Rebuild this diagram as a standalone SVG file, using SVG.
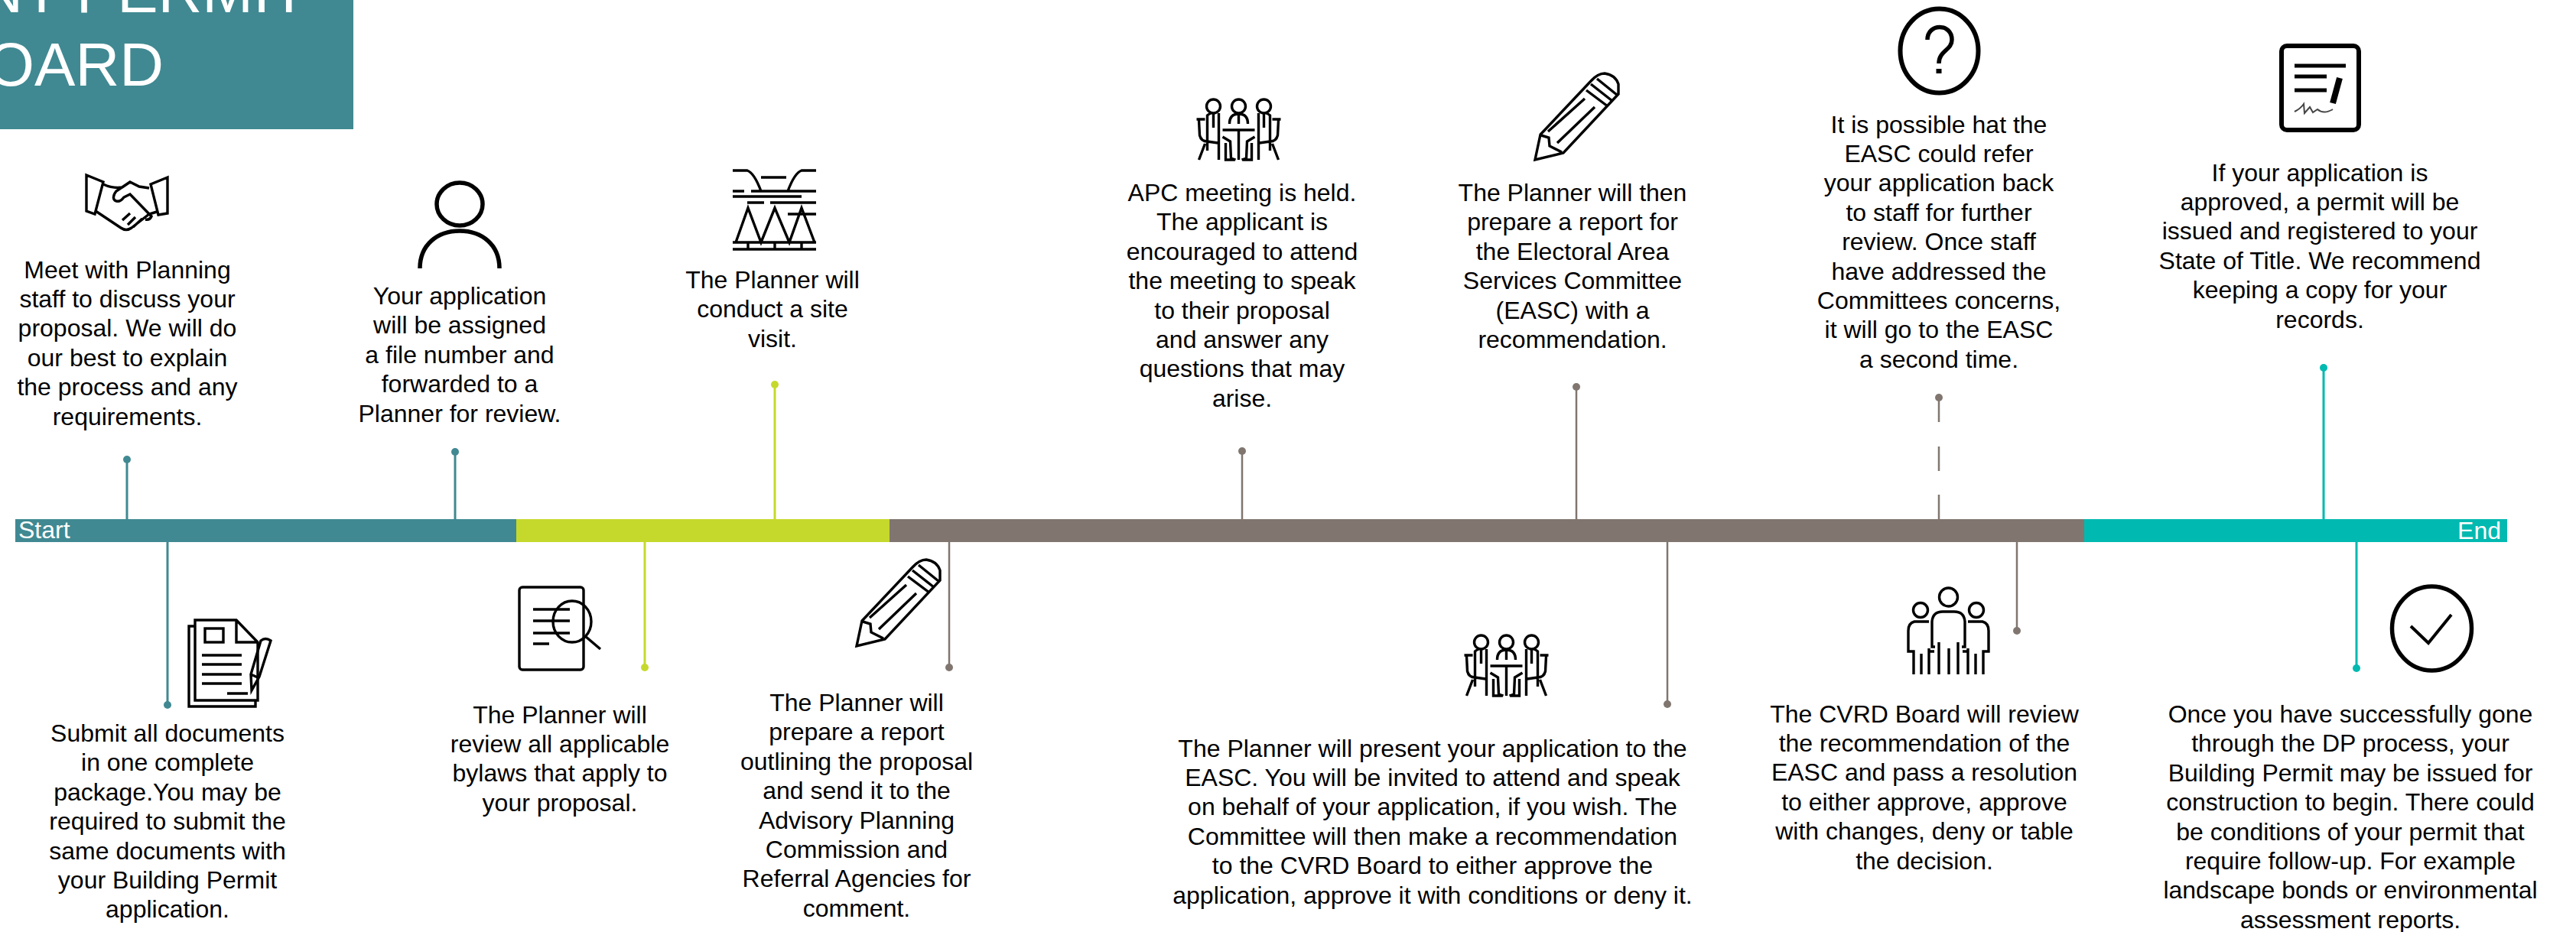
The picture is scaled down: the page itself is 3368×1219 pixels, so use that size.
<svg xmlns="http://www.w3.org/2000/svg" width="3368" height="1219" viewBox="0 0 3368 1219">
<style>
text{font-family:"Liberation Sans",Arial,sans-serif}
.t{font-size:32px;fill:#000;text-anchor:middle}
.w{font-size:32px;fill:#fff}
.h{font-size:80px;fill:#fff}
.i{fill:none;stroke:#000;stroke-width:3.400;filter:url(#soft)}
.teal{stroke:#408992;stroke-width:3}.tealf{fill:#408992}
.lime{stroke:#c5d92d;stroke-width:3}.limef{fill:#c5d92d}
.brown{stroke:#80766f;stroke-width:2.500}.brownf{fill:#80766f}
.aqua{stroke:#00b9b0;stroke-width:3}.aquaf{fill:#00b9b0}
</style>
<defs>
<filter id="soft" x="-5%" y="-5%" width="110%" height="110%"><feGaussianBlur stdDeviation="0.6"/></filter>
<g id="pencil">
<path d="M7,80 L73,10 Q82,0 91,0 Q105,2 109,14 L109,27 L37,104 L0,113 Z M8,81 L18,84 L19,95 L35,103 M65,33 L17,76 M78,44 L29,91 M73,14 L101,36 M81,7 L107,28 M67,22 L95,43"/>
</g>
<g id="sitter">
<circle cx="22" cy="12" r="9"/>
<path d="M14,70 L14,24 Q16,22 19,21 M29,21 L29,82 M22,22 L22,40 M0,29 L11,29 M3,30 L4,50 Q6,58 14,58 L28,60 M11,61 L3,82 M34,52 L44,58 L45,80 L51,82 M38,60 L38,82 L50,82"/>
</g>
<g id="meeting">
<use href="#sitter"/>
<use href="#sitter" transform="matrix(-1 0 0 1 110 0)"/>
<circle cx="55" cy="12" r="9"/>
<path d="M43,35 Q43,22 55,22 Q67,22 67,35 M55,22 L55,35 M34,43 L76,43 M55,43 L55,82" />
</g>
<g id="teamSide">
<circle cx="2511" cy="798" r="9.500"/>
<path d="M2522,813 L2503,813 Q2495,815 2495,825 L2495,852 L2502,852 L2502,882 M2512,855 L2512,882 M2522,848 L2522,882 M2522,852 L2529,852"/>
</g>
</defs>
<g id="title">
<rect x="0" y="0" width="462" height="169" fill="#408992"/>
<text class="h" x="402" y="16" text-anchor="end">NT PERMIT</text>
<text class="h" x="214" y="112" text-anchor="end">OARD</text>
</g>
<g id="timeline">
<rect x="20" y="679" width="655" height="30" fill="#408992"/>
<rect x="675" y="679" width="488" height="30" fill="#c5d92d"/>
<rect x="1163" y="679" width="1562" height="30" fill="#80766f"/>
<rect x="2725" y="679" width="553" height="30" fill="#00b9b0"/>
<text class="w" x="24" y="704">Start</text>
<text class="w" x="3270" y="705" text-anchor="end">End</text>
</g>
<g id="connectors">
<path class="teal" d="M166,601V679M595,591V679M219,709V922"/>
<circle class="tealf" cx="166" cy="601" r="5"/><circle class="tealf" cx="595" cy="591" r="5"/><circle class="tealf" cx="219" cy="922" r="5"/>
<path class="lime" d="M1013,503V679M843,709V873"/>
<circle class="limef" cx="1013" cy="503" r="5"/><circle class="limef" cx="843" cy="873" r="5"/>
<path class="brown" d="M1624,590V679M2061,506V679M1241,709V873M2180,709V921M2637,709V825"/>
<path class="brown" d="M2535,520V552M2535,584V616M2535,647V679"/>
<circle class="brownf" cx="1624" cy="590" r="5"/><circle class="brownf" cx="2061" cy="506" r="5"/><circle class="brownf" cx="2535" cy="520" r="5"/><circle class="brownf" cx="1241" cy="873" r="5"/><circle class="brownf" cx="2180" cy="921" r="5"/><circle class="brownf" cx="2637" cy="825" r="5"/>
<path class="aqua" d="M3038,481V679M3081,709V874"/>
<circle class="aquaf" cx="3038" cy="481" r="5"/><circle class="aquaf" cx="3081" cy="874" r="5"/>
</g>
<g id="node-meet">
<g class="i"><path d="M113,229 L135,238 L124,280 L113,276 Z M219,232 L197,241 L207,281 L219,279 Z M135,241 Q148,247 160,245 L170,238 L182,244 L195,246 M170,238 L152,250 Q146,258 150,262 Q156,266 162,258 L170,254 L198,283 Q196,288 190,287 M125,276 L158,298 Q165,303 172,298 L195,280 L205,277 M160,288 L170,279 M167,294 L177,284 M174,297 L186,286"/></g>
<text class="t"><tspan x="166.500" y="363.500">Meet with Planning</tspan><tspan x="166.500" dy="38.4">staff to discuss your</tspan><tspan x="166.500" dy="38.4">proposal. We will do</tspan><tspan x="166.500" dy="38.4">our best to explain</tspan><tspan x="166.500" dy="38.4">the process and any</tspan><tspan x="166.500" dy="38.4">requirements.</tspan></text>
</g>
<g id="node-assign">
<g class="i" style="stroke-width:5.500"><ellipse cx="601" cy="267" rx="30" ry="28"/><path d="M549,351 C549,320 572,302 601,302 C630,302 653,320 653,351"/></g>
<text class="t"><tspan x="601" y="398">Your application</tspan><tspan x="601" dy="38.4">will be assigned</tspan><tspan x="601" dy="38.4">a file number and</tspan><tspan x="601" dy="38.4">forwarded to a</tspan><tspan x="601" dy="38.4">Planner for review.</tspan></text>
</g>
<g id="node-site">
<g class="i"><path d="M958,223 L977,223 Q986,226 995,250 M1067,223 L1048,223 Q1039,226 1030,250 M995,232 L1028,232 M958,250 L973,250 M982,250 L1067,250 M958,257 L1048,257 M977,265 L999,265 M1007,265 L1067,265 M1030,280 L1067,280 M962,317 L978,272 L995,317 L1013,272 L1032,317 L1048,272 L1065,317 M958,317 L1067,317 M958,326 L1067,326 M978,317 V326 M1013,317 V326 M1048,317 V326"/></g>
<text class="t"><tspan x="1010" y="377">The Planner will</tspan><tspan x="1010" dy="38.4">conduct a site</tspan><tspan x="1010" dy="38.4">visit.</tspan></text>
</g>
<g id="node-apc">
<use class="i" href="#meeting" transform="translate(1564.500,127)"/>
<text class="t"><tspan x="1624" y="263">APC meeting is held.</tspan><tspan x="1624" dy="38.4">The applicant is</tspan><tspan x="1624" dy="38.4">encouraged to attend</tspan><tspan x="1624" dy="38.4">the meeting to speak</tspan><tspan x="1624" dy="38.4">to their proposal</tspan><tspan x="1624" dy="38.4">and answer any</tspan><tspan x="1624" dy="38.4">questions that may</tspan><tspan x="1624" dy="38.4">arise.</tspan></text>
</g>
<g id="node-report-easc">
<use class="i" href="#pencil" transform="translate(2007,96)"/>
<text class="t"><tspan x="2056" y="263">The Planner will then</tspan><tspan x="2056" dy="38.4">prepare a report for</tspan><tspan x="2056" dy="38.4">the Electoral Area</tspan><tspan x="2056" dy="38.4">Services Committee</tspan><tspan x="2056" dy="38.4">(EASC) with a</tspan><tspan x="2056" dy="38.4">recommendation.</tspan></text>
</g>
<g id="node-refer">
<g class="i" style="stroke-width:6"><ellipse cx="2535.500" cy="66.500" rx="51" ry="55"/><path d="M2520,52 C2520,30 2552,30 2552,52 C2552,66 2535,66 2535,83" style="stroke-width:5.500"/><path d="M2535,90 V96" style="stroke-width:7"/></g>
<text class="t"><tspan x="2535" y="173.500">It is possible hat the</tspan><tspan x="2535" dy="38.4">EASC could refer</tspan><tspan x="2535" dy="38.4">your application back</tspan><tspan x="2535" dy="38.4">to staff for further</tspan><tspan x="2535" dy="38.4">review. Once staff</tspan><tspan x="2535" dy="38.4">have addressed the</tspan><tspan x="2535" dy="38.4">Committees concerns,</tspan><tspan x="2535" dy="38.4">it will go to the EASC</tspan><tspan x="2535" dy="38.4">a second time.</tspan></text>
</g>
<g id="node-approved">
<g class="i" style="stroke-width:6"><rect x="2983" y="60" width="101" height="110" rx="7"/><path d="M3000,86 H3067 M3000,100 H3042 M3000,118 H3042" style="stroke-width:5"/><path d="M3059,102 L3050,135" style="stroke-width:8"/><path d="M3000,146 Q3008,142 3012,136 L3013,148 L3020,140 L3024,147 L3030,143 Q3038,150 3050,143" style="stroke-width:2;stroke:#444"/></g>
<text class="t"><tspan x="3033" y="236.500">If your application is</tspan><tspan x="3033" dy="38.4">approved, a permit will be</tspan><tspan x="3033" dy="38.4">issued and registered to your</tspan><tspan x="3033" dy="38.4">State of Title. We recommend</tspan><tspan x="3033" dy="38.4">keeping a copy for your</tspan><tspan x="3033" dy="38.4">records.</tspan></text>
</g>
<g id="node-submit">
<g class="i"><path d="M255,819 H247 V924 H334 V917 M255,811 H309 L337,840 V916 H255 Z M309,811 V840 H337"/><rect x="268" y="822" width="24" height="18"/><path d="M264,857 H316 M264,869 H316 M264,882 H316 M264,894 H316 M297,907 H324"/><path d="M341,838 Q347,833 354,838 L339,885 L329,903 L328,882 Z M328,882 L339,887"/></g>
<text class="t"><tspan x="219" y="970">Submit all documents</tspan><tspan x="219" dy="38.4">in one complete</tspan><tspan x="219" dy="38.4">package.You may be</tspan><tspan x="219" dy="38.4">required to submit the</tspan><tspan x="219" dy="38.4">same documents with</tspan><tspan x="219" dy="38.4">your Building Permit</tspan><tspan x="219" dy="38.4">application.</tspan></text>
</g>
<g id="node-bylaws">
<g class="i"><rect x="679" y="768" width="84" height="108" rx="4"/><path d="M697,797 H745 M697,812 H745 M697,828 H745 M697,842 H718"/><ellipse cx="748" cy="813" rx="25" ry="27"/><path d="M765,832 L785,849"/></g>
<text class="t"><tspan x="732" y="945.500">The Planner will</tspan><tspan x="732" dy="38.4">review all applicable</tspan><tspan x="732" dy="38.4">bylaws that apply to</tspan><tspan x="732" dy="38.4">your proposal.</tspan></text>
</g>
<g id="node-report-apc">
<use class="i" href="#pencil" transform="translate(1120,732)"/>
<text class="t"><tspan x="1120" y="930">The Planner will</tspan><tspan x="1120" dy="38.4">prepare a report</tspan><tspan x="1120" dy="38.4">outlining the proposal</tspan><tspan x="1120" dy="38.4">and send it to the</tspan><tspan x="1120" dy="38.4">Advisory Planning</tspan><tspan x="1120" dy="38.4">Commission and</tspan><tspan x="1120" dy="38.4">Referral Agencies for</tspan><tspan x="1120" dy="38.4">comment.</tspan></text>
</g>
<g id="node-present">
<use class="i" href="#meeting" transform="translate(1914.500,828)"/>
<text class="t"><tspan x="1873" y="989.500">The Planner will present your application to the</tspan><tspan x="1873" dy="38.4">EASC. You will be invited to attend and speak</tspan><tspan x="1873" dy="38.4">on behalf of your application, if you wish. The</tspan><tspan x="1873" dy="38.4">Committee will then make a recommendation</tspan><tspan x="1873" dy="38.4">to the CVRD Board to either approve the</tspan><tspan x="1873" dy="38.4">application, approve it with conditions or deny it.</tspan></text>
</g>
<g id="node-board">
<g class="i"><circle cx="2547.500" cy="781" r="12"/><path d="M2530,846 L2526,846 L2526,813 Q2527,800 2540,800 L2555,800 Q2568,800 2569,813 L2569,846 L2565,846 M2535,840 V882 M2548,848 V882 M2560,840 V882"/><use href="#teamSide"/><use href="#teamSide" transform="matrix(-1 0 0 1 5095 0)"/></g>
<text class="t"><tspan x="2516" y="944.500">The CVRD Board will review</tspan><tspan x="2516" dy="38.4">the recommendation of the</tspan><tspan x="2516" dy="38.4">EASC and pass a resolution</tspan><tspan x="2516" dy="38.4">to either approve, approve</tspan><tspan x="2516" dy="38.4">with changes, deny or table</tspan><tspan x="2516" dy="38.4">the decision.</tspan></text>
</g>
<g id="node-issued">
<g class="i" style="stroke-width:5.500"><ellipse cx="3179.500" cy="822" rx="52" ry="55"/><path d="M3152,819 L3175,841 L3205,804" style="stroke-width:4"/></g>
<text class="t"><tspan x="3073" y="945">Once you have successfully gone</tspan><tspan x="3073" dy="38.4">through the DP process, your</tspan><tspan x="3073" dy="38.4">Building Permit may be issued for</tspan><tspan x="3073" dy="38.4">construction to begin. There could</tspan><tspan x="3073" dy="38.4">be conditions of your permit that</tspan><tspan x="3073" dy="38.4">require follow-up. For example</tspan><tspan x="3073" dy="38.4">landscape bonds or environmental</tspan><tspan x="3073" dy="38.4">assessment reports.</tspan></text>
</g>
</svg>
